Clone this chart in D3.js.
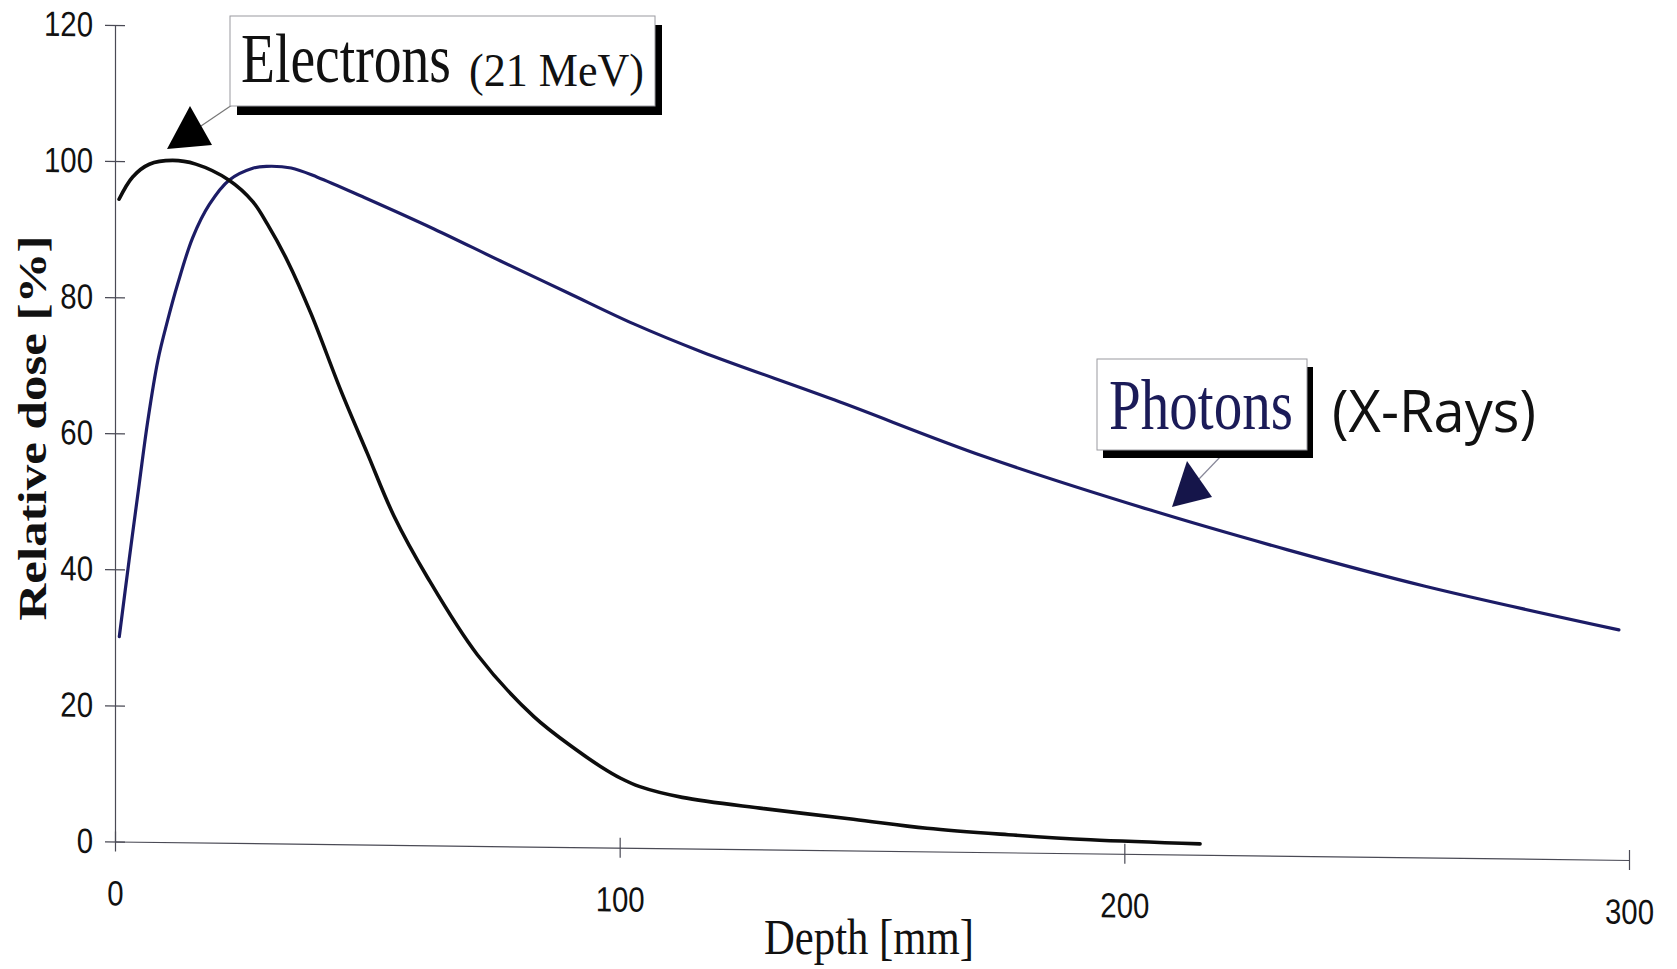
<!DOCTYPE html>
<html><head><meta charset="utf-8">
<script src="https://cdn.jsdelivr.net/npm/d3@7"></script>
<style>body{margin:0;background:#fff;overflow:hidden}</style>
</head><body>
<svg id="chart" width="1677" height="969"></svg>
<script>
// ---- data ----
const electronDepth = [0.8, 3.5, 6.8, 11.4, 16, 22.6, 27.3, 30.2, 34.2, 38.8, 44.8, 50, 55.3, 61.9, 71.8, 83, 91.6, 96.2, 100.2, 104, 112.4, 128.6, 146.3, 160.9, 177, 193.3, 215];
const electronDose  = [94.4, 97.7, 99.6, 100.2, 99.7, 97.4, 94.3, 91.0, 85.6, 78.0, 66.6, 57.5, 48.3, 39.4, 28.1, 19.1, 14.2, 11.9, 10.2, 9.0, 7.5, 6.0, 4.6, 3.4, 2.6, 2.0, 1.6];
const photonDepth = [0.85, 2.8, 4.8, 6.5, 8.5, 10.4, 12.4, 15.4, 18.7, 22.6, 27.3, 30, 34.9, 40.1, 49.4, 63.2, 76.4, 89.6, 102.8, 116.3, 142.5, 172.4, 205, 232.2, 259.4, 298];
const photonDose  = [30.1, 41.4, 52.6, 61.9, 70.8, 76.6, 82.0, 88.9, 93.8, 97.4, 99.2, 99.5, 99.3, 98.0, 95.1, 90.6, 86.0, 81.5, 77.0, 73.0, 66.2, 58.1, 50.6, 45.0, 39.9, 33.8];
const xTickValues = [0, 100, 200, 300];
const yTickValues = [0, 20, 40, 60, 80, 100, 120];
const xTitle = "Depth [mm]";
const yTitle = "Relative dose [%]";
const electronLabel = "Electrons";
const electronSub = "(21 MeV)";
const photonLabel = "Photons";
const photonSub = "(X-Rays)";

// ---- layout ----
const svg = d3.select("#chart");
const x = d3.scaleLinear().domain([0, 300]).range([115, 1629]);
const y = d3.scaleLinear().domain([0, 120]).range([841.5, 25]);
const skew = 0.0122; // the scanned original's baseline drifts downward to the right
const x0 = x(0);

const plot = svg.append("g")
  .attr("transform", `matrix(1,${skew},0,1,0,${-skew * x0})`);

const axisColor = "#4a4a55";
const tickFont = "'Liberation Sans', Arial, sans-serif";
const serif = "'Liberation Serif', 'Times New Roman', serif";

function narrow(sel, f) {
  sel.each(function () {
    const w = this.getComputedTextLength();
    d3.select(this).attr("textLength", w * f).attr("lengthAdjust", "spacingAndGlyphs");
  });
}

// text squeezed horizontally to a target width with a scale transform
function fitText(parent, str, px, py, width, attrs) {
  const t = parent.append("text").attr("x", 0).attr("y", 0).text(str);
  Object.entries(attrs).forEach(([k, v]) => t.attr(k, v));
  const w = t.node().getComputedTextLength();
  t.attr("transform", `translate(${px},${py}) scale(${width / w},1)`);
  return t;
}

// y axis
const yAxis = plot.append("g")
  .attr("transform", `translate(${x0},0)`)
  .call(d3.axisLeft(y).tickValues(yTickValues).tickSize(10).tickSizeOuter(0).tickPadding(12));
yAxis.select(".domain").attr("stroke", axisColor).attr("stroke-width", 1.2);
yAxis.selectAll(".tick line").attr("x1", 10).attr("x2", -10).attr("stroke", axisColor).attr("stroke-width", 1.2);
yAxis.selectAll(".tick text")
  .attr("font-family", tickFont)
  .attr("font-size", 35).attr("fill", "#111")
  .call(narrow, 0.84);

// x axis
const xAxis = plot.append("g")
  .attr("transform", `translate(0,${y(0)})`)
  .call(d3.axisBottom(x).tickValues(xTickValues).tickSize(10).tickSizeOuter(0).tickPadding(29));
xAxis.select(".domain").attr("stroke", axisColor).attr("stroke-width", 1.2);
xAxis.selectAll(".tick line").attr("y1", -10).attr("y2", 10).attr("stroke", axisColor).attr("stroke-width", 1.2);
xAxis.selectAll(".tick text")
  .attr("font-family", tickFont)
  .attr("font-size", 35).attr("fill", "#111")
  .call(narrow, 0.84);

// curves
const electrons = electronDepth.map((d, i) => [d, electronDose[i]]);
const photons = photonDepth.map((d, i) => [d, photonDose[i]]);
const line = d3.line().x(d => x(d[0])).y(d => y(d[1])).curve(d3.curveCatmullRom.alpha(0.5));

plot.append("path").datum(photons)
  .attr("d", line).attr("fill", "none")
  .attr("stroke", "#1c1c66").attr("stroke-width", 3.2).attr("stroke-linecap", "round");
plot.append("path").datum(electrons)
  .attr("d", line).attr("fill", "none")
  .attr("stroke", "#0d0d0d").attr("stroke-width", 3.6).attr("stroke-linecap", "round");

// axis titles
svg.append("text")
  .attr("transform", "translate(46,428) rotate(-90)")
  .attr("text-anchor", "middle")
  .attr("font-family", serif)
  .attr("font-weight", "bold")
  .attr("font-size", 41)
  .attr("textLength", 385).attr("lengthAdjust", "spacingAndGlyphs")
  .attr("fill", "#111")
  .text(yTitle);

fitText(svg, xTitle, 764, 954, 210, {"font-family": serif, "font-size": 50, "fill": "#111"});

// annotation helper
function callout(box, shadow) {
  svg.append("rect")
    .attr("x", box.x + shadow[0]).attr("y", box.y + shadow[1])
    .attr("width", box.w).attr("height", box.h)
    .attr("fill", "#000");
  svg.append("rect")
    .attr("x", box.x).attr("y", box.y)
    .attr("width", box.w).attr("height", box.h)
    .attr("fill", "#fff").attr("stroke", "#9a9aa0").attr("stroke-width", 1);
}

// Electrons callout
svg.append("line").attr("x1", 201).attr("y1", 126).attr("x2", 232).attr("y2", 105)
  .attr("stroke", "#777").attr("stroke-width", 1.2);
svg.append("path").attr("d", "M190,106 L167,149 L212,145 Z").attr("fill", "#000");
callout({x: 230, y: 16, w: 425, h: 90}, [7, 9]);
fitText(svg, electronLabel, 241, 82, 210, {"font-family": serif, "font-size": 70, "fill": "#111"});
fitText(svg, electronSub, 469, 86, 175, {"font-family": serif, "font-size": 47, "fill": "#111"});

// Photons callout
svg.append("line").attr("x1", 1199).attr("y1", 479).attr("x2", 1222).attr("y2", 455)
  .attr("stroke", "#889").attr("stroke-width", 1.2);
svg.append("path").attr("d", "M1172,507 L1187,461 L1212,497 Z").attr("fill", "#15154a");
callout({x: 1097, y: 359, w: 210, h: 91}, [6, 8]);
fitText(svg, photonLabel, 1109, 429, 184, {"font-family": serif, "font-size": 72, "fill": "#1b1b58"});
fitText(svg, photonSub, 1332, 432, 204, {"font-family": "'Open Sans', 'Noto Sans', sans-serif", "font-size": 58, "fill": "#111"});
</script>
</body></html>
